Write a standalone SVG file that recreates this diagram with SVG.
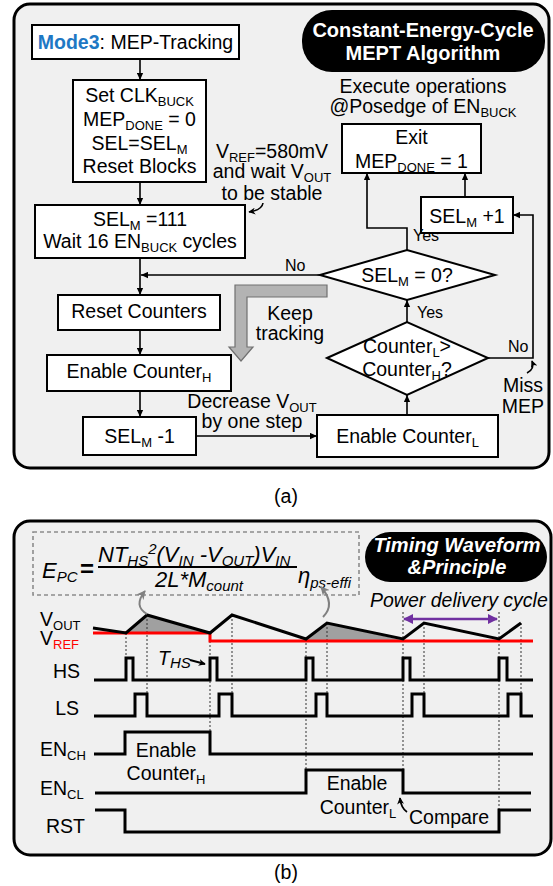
<svg xmlns="http://www.w3.org/2000/svg" width="553" height="886" viewBox="0 0 553 886">
  <defs>
    <marker id="ah" viewBox="0 0 10 10" refX="10" refY="5" markerWidth="8" markerHeight="7" markerUnits="userSpaceOnUse" orient="auto">
      <path d="M0,0.5 L10,5 L0,9.5 z" fill="#000"/>
    </marker>
    <marker id="ahg" viewBox="0 0 10 10" refX="9" refY="5" markerWidth="9" markerHeight="9" markerUnits="userSpaceOnUse" orient="auto">
      <path d="M0,0 L10,5 L0,10 L3,5 z" fill="#808080"/>
    </marker>
    <marker id="ahp" viewBox="0 0 10 10" refX="9" refY="5" markerWidth="10" markerHeight="10" markerUnits="userSpaceOnUse" orient="auto-start-reverse">
      <path d="M0,0 L10,5 L0,10 z" fill="#7030a0"/>
    </marker>
    <marker id="ahs" viewBox="0 0 10 10" refX="9" refY="5" markerWidth="7" markerHeight="7" markerUnits="userSpaceOnUse" orient="auto">
      <path d="M0,0 L10,5 L0,10 L3,5 z" fill="#000"/>
    </marker>
  </defs>
  <style>
    .panel { fill: #f0f0f0; stroke: #000; stroke-width: 3; }
    .box { fill: #fff; stroke: #000; stroke-width: 2; }
    .t { font-family: "Liberation Sans", Arial, sans-serif; font-size: 19.5px; fill: #000; }
    .m { text-anchor: middle; }
    .lbl { font-family: "Liberation Sans", Arial, sans-serif; font-size: 16px; fill: #000; }
    .sb { font-size: 13px; }
    .hd { font-family: "Liberation Sans", Arial, sans-serif; font-weight: bold; font-size: 20px; fill: #fff; text-anchor: middle; }
    .conn { fill: none; stroke: #000; stroke-width: 1.6; marker-end: url(#ah); }
    .line { fill: none; stroke: #000; stroke-width: 1.6; }
    .wave { fill: none; stroke: #000; stroke-width: 3; stroke-linejoin: miter; }
    .dot { fill: none; stroke: #333; stroke-width: 1; stroke-dasharray: 2 2; }
    .eq { font-family: "Liberation Sans", Arial, sans-serif; font-style: italic; font-size: 22px; fill: #000; }
    .eqs { font-size: 15px; }
  </style>

  <!-- ===== (a) flow chart ===== -->
  <rect class="panel" x="14" y="4" width="535" height="464" rx="16"/>

  <g id="title-a">
    <rect x="302" y="10" width="243" height="62" rx="30" fill="#000"/>
    <text class="hd" x="423" y="37">Constant-Energy-Cycle</text>
    <text class="hd" x="423" y="60">MEPT Algorithm</text>
  </g>

  <g id="note-exec">
    <text class="t m" x="423" y="93">Execute operations</text>
    <text class="t m" x="423" y="113">@Posedge of EN<tspan class="sb" dy="4">BUCK</tspan></text>
  </g>

  <g id="n-mode3">
    <rect class="box" x="32" y="25" width="207" height="34"/>
    <text class="t m" x="135.5" y="49"><tspan font-weight="bold" fill="#1e78c4">Mode3</tspan>: MEP-Tracking</text>
  </g>

  <g id="n-setup">
    <rect class="box" x="73" y="80" width="133" height="102"/>
    <text class="t m" x="139.5" y="102">Set CLK<tspan class="sb" dy="4">BUCK</tspan></text>
    <text class="t m" x="139.5" y="126">MEP<tspan class="sb" dy="4">DONE</tspan><tspan dy="-4"> = 0</tspan></text>
    <text class="t m" x="139.5" y="150">SEL=SEL<tspan class="sb" dy="4">M</tspan></text>
    <text class="t m" x="139.5" y="173">Reset Blocks</text>
  </g>

  <g id="n-init">
    <rect class="box" x="35" y="205" width="210" height="53"/>
    <text class="t m" x="140" y="226">SEL<tspan class="sb" dy="4">M</tspan><tspan dy="-4"> =111</tspan></text>
    <text class="t m" x="140" y="248">Wait 16 EN<tspan class="sb" dy="4">BUCK</tspan><tspan dy="-4"> cycles</tspan></text>
  </g>

  <g id="note-vref">
    <text class="t m" x="272" y="158">V<tspan class="sb" dy="4">REF</tspan><tspan dy="-4">=580mV</tspan></text>
    <text class="t m" x="272" y="178">and wait V<tspan class="sb" dy="4">OUT</tspan></text>
    <text class="t m" x="272" y="200">to be stable</text>
    <path class="line" d="M263,203 Q262,210 249,212" marker-end="url(#ahs)"/>
  </g>

  <g id="n-reset">
    <rect class="box" x="58" y="295" width="162" height="35"/>
    <text class="t m" x="139" y="318">Reset Counters</text>
  </g>

  <g id="n-enh">
    <rect class="box" x="47" y="355" width="184" height="36"/>
    <text class="t m" x="139" y="378">Enable Counter<tspan class="sb" dy="4">H</tspan></text>
  </g>

  <g id="n-selm1">
    <rect class="box" x="83" y="417" width="113" height="38"/>
    <text class="t m" x="139.5" y="443">SEL<tspan class="sb" dy="4">M</tspan><tspan dy="-4"> -1</tspan></text>
  </g>

  <g id="n-enl">
    <rect class="box" x="317" y="415" width="181" height="42"/>
    <text class="t m" x="407.5" y="443">Enable Counter<tspan class="sb" dy="4">L</tspan></text>
  </g>

  <g id="n-cmp">
    <polygon class="box" points="327,358 407,322 488,358 407,395"/>
    <text class="t m" x="407" y="353">Counter<tspan class="sb" dy="4">L</tspan><tspan dy="-4">&gt;</tspan></text>
    <text class="t m" x="407" y="376">Counter<tspan class="sb" dy="4">H</tspan><tspan dy="-4">?</tspan></text>
  </g>

  <g id="n-zero">
    <polygon class="box" points="320,275 407,250 495,275 407,300"/>
    <text class="t m" x="407" y="282">SEL<tspan class="sb" dy="4">M</tspan><tspan dy="-4"> = 0?</tspan></text>
  </g>

  <g id="n-exit">
    <rect class="box" x="342" y="124" width="139" height="49"/>
    <text class="t m" x="411.5" y="144">Exit</text>
    <text class="t m" x="411.5" y="168">MEP<tspan class="sb" dy="4">DONE</tspan><tspan dy="-4"> = 1</tspan></text>
  </g>

  <g id="n-selp1">
    <rect class="box" x="421" y="197" width="92" height="36"/>
    <text class="t m" x="467" y="223">SEL<tspan class="sb" dy="4">M</tspan><tspan dy="-4"> +1</tspan></text>
  </g>

  <g id="keep-tracking">
    <polygon points="327,285 235,285 235,347 229,347 241,361 253,347 247,347 247,297 327,297" fill="#b3b3b3" stroke="#707070" stroke-width="1.2"/>
    <text class="t m" x="290" y="320">Keep</text>
    <text class="t m" x="290" y="340">tracking</text>
  </g>

  <g id="connectors-a">
    <path class="conn" d="M140,59 V80"/>
    <path class="conn" d="M140,182 V205"/>
    <path class="conn" d="M140,258 V295"/>
    <path class="conn" d="M140,330 V355"/>
    <path class="conn" d="M140,391 V417"/>
    <path class="conn" d="M196,436 H317"/>
    <path class="conn" d="M407,415 V395"/>
    <path class="conn" d="M407,322 V300"/>
    <path class="conn" d="M320,275 H141"/>
    <path class="conn" d="M407,250 V228 H367 V173"/>
    <path class="conn" d="M465,197 V173"/>
    <path class="conn" d="M488,358 H533 V215 H513"/>
    <path class="line" d="M527,373 Q535,369 532,361" marker-end="url(#ahs)"/>
    <text class="lbl" x="285" y="271">No</text>
    <text class="lbl" x="413" y="241">Yes</text>
    <text class="lbl" x="417" y="318">Yes</text>
    <text class="lbl" x="508" y="352">No</text>
    <text class="t m" x="252" y="408">Decrease V<tspan class="sb" dy="4">OUT</tspan></text>
    <text class="t m" x="252" y="428">by one step</text>
    <text class="t m" x="523" y="392">Miss</text>
    <text class="t m" x="523" y="413">MEP</text>
  </g>

  <text class="t m" x="286" y="503">(a)</text>

  <!-- ===== (b) timing waveform ===== -->
  <rect class="panel" x="14" y="521" width="537" height="334" rx="16"/>

  <g id="formula">
    <rect x="33" y="532" width="326" height="63" fill="none" stroke="#8c8c8c" stroke-width="1.6" stroke-dasharray="4 3"/>
    <text class="eq" x="42" y="578">E<tspan class="eqs" dy="4">PC</tspan></text>
    <text x="80" y="577" font-family="Liberation Sans, Arial, sans-serif" font-size="24" font-weight="bold">=</text>
    <text class="eq" x="98" y="562">NT<tspan class="eqs" dy="4">HS</tspan><tspan class="eqs" dy="-12">2</tspan><tspan dy="8">(V</tspan><tspan class="eqs" dy="4">IN</tspan><tspan dy="-4"> -V</tspan><tspan class="eqs" dy="4">OUT</tspan><tspan dy="-4">)V</tspan><tspan class="eqs" dy="4">IN</tspan></text>
    <line x1="98" y1="567" x2="297" y2="567" stroke="#000" stroke-width="2"/>
    <text class="eq m" x="199" y="587">2L*M<tspan class="eqs" dy="4">count</tspan></text>
    <text class="eq" x="298" y="583" font-size="25">η<tspan class="eqs" font-size="14" dy="5">ps-effi</tspan></text>
  </g>

  <g id="title-b">
    <rect x="365" y="532" width="182" height="50" rx="25" fill="#000"/>
    <text class="hd" x="457" y="552" font-style="italic" font-size="19">Timing Waveform</text>
    <text class="hd" x="457" y="574" font-style="italic" font-size="19">&amp;Principle</text>
  </g>

  <g id="cycle-mark">
    <text class="t" x="370" y="607" font-style="italic" fill="#7030a0">Power delivery cycle</text>
    <path d="M404,619 H497" fill="none" stroke="#7030a0" stroke-width="2.5" marker-start="url(#ahp)" marker-end="url(#ahp)"/>
  </g>

  <g id="signal-labels">
    <text class="t" x="40" y="626" font-size="20">V<tspan class="sb" dy="4" font-size="14">OUT</tspan></text>
    <text class="t" x="40" y="645" font-size="20" fill="#ff0000">V<tspan class="sb" dy="4" font-size="14" fill="#ff0000">REF</tspan></text>
    <text class="t" x="80" y="678" text-anchor="end">HS</text>
    <text class="t" x="79" y="715" text-anchor="end">LS</text>
    <text class="t" x="40" y="756">EN<tspan class="sb" dy="4">CH</tspan></text>
    <text class="t" x="40" y="795">EN<tspan class="sb" dy="4">CL</tspan></text>
    <text class="t" x="46" y="833">RST</text>
  </g>

  <g id="waveforms">
    <polygon points="126,633 147,615 210,633" fill="#a0a0a0"/>
    <polygon points="306,640 327,623 401,640" fill="#a0a0a0"/>
    <path class="dot" d="M126,633 V658 M147,615 V716 M210,633 V732 M232,615 V716 M306,639 V770 M327,623 V716 M403,612 V793 M424,623 V716 M499,612 V810 M521,623 V716"/>
    <path d="M93,633 H210 V641 H533" fill="none" stroke="#ff0000" stroke-width="3"/>
    <path class="wave" d="M93,628 L126,633 L147,615 L210,633 L232,615 L306,639 L327,623 L403,639 L424,623 L499,639 L521,623"/>
    <path class="wave" d="M94,680 H126 V658 H133 V680 H210 V658 H217 V680 H306 V658 H313 V680 H403 V658 H410 V680 H499 V658 H507 V680 H533"/>
    <path class="wave" d="M94,716 H135 V694 H147 V716 H219 V694 H232 V716 H316 V694 H327 V716 H412 V694 H424 V716 H508 V694 H521 V716 H533"/>
    <path class="wave" d="M94,754 H125 V732 H210 V754 H533"/>
    <path class="wave" d="M95,793 H306 V770 H403 V793 H531"/>
    <path class="wave" d="M95,810 H125 V832 H499 V810 H531"/>
  </g>

  <g id="wave-notes">
    <text class="t" x="158" y="665" font-style="italic" font-size="23">T<tspan class="eqs" dy="3" font-size="15">HS</tspan></text>
    <path d="M190,660 L205,664" fill="none" stroke="#000" stroke-width="2" marker-end="url(#ahs)"/>
    <path d="M147,614 Q133,606 145,591" fill="none" stroke="#808080" stroke-width="2" marker-end="url(#ahg)"/>
    <path d="M323,617 Q336,604 321,587" fill="none" stroke="#808080" stroke-width="2" marker-end="url(#ahg)"/>
    <text class="t m" x="166" y="757">Enable</text>
    <text class="t m" x="166" y="780">Counter<tspan class="sb" dy="4">H</tspan></text>
    <text class="t m" x="357" y="790">Enable</text>
    <text class="t m" x="358" y="814">Counter<tspan class="sb" dy="4">L</tspan></text>
    <path d="M407,812 Q401,808 400,798" fill="none" stroke="#000" stroke-width="1.8" marker-end="url(#ahs)"/>
    <text class="t" x="409" y="824">Compare</text>
  </g>

  <text class="t m" x="286" y="879">(b)</text>
</svg>
